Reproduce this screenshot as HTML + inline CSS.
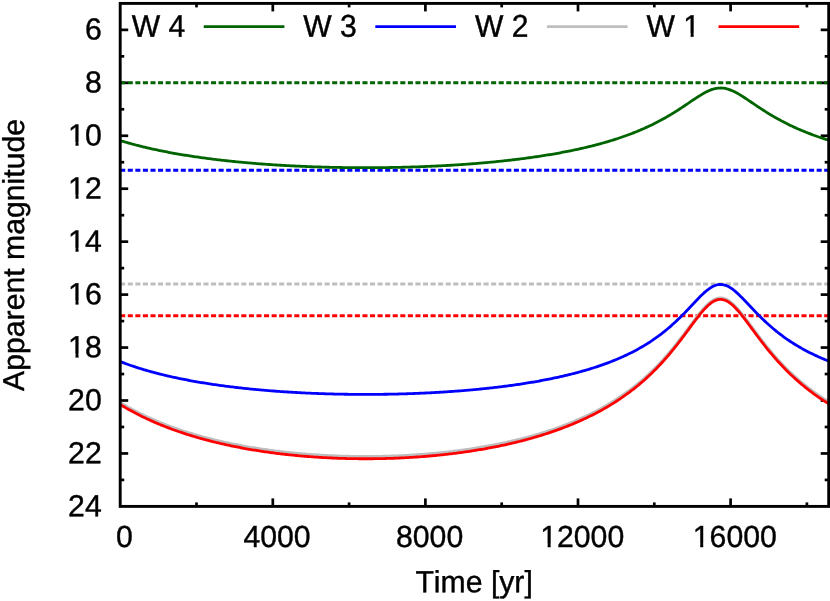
<!DOCTYPE html>
<html><head><meta charset="utf-8"><title>chart</title>
<style>
html,body{margin:0;padding:0;background:#fff;}
svg{display:block;will-change:transform}
text{font-family:"Liberation Sans",sans-serif;font-size:30.2px;fill:#000;stroke:#000;stroke-width:0.4px;text-rendering:geometricPrecision;font-kerning:none}
</style></head><body>
<svg width="830" height="601" viewBox="0 0 830 601">
<rect width="830" height="601" fill="#fff"/>

<g stroke="#000" stroke-width="2.7" fill="none">
<line x1="120.2" y1="29.87" x2="128.2" y2="29.87"/>
<line x1="828.7" y1="29.87" x2="820.7" y2="29.87"/>
<line x1="120.2" y1="56.35" x2="124.2" y2="56.35"/>
<line x1="828.7" y1="56.35" x2="824.7" y2="56.35"/>
<line x1="120.2" y1="82.82" x2="128.2" y2="82.82"/>
<line x1="828.7" y1="82.82" x2="820.7" y2="82.82"/>
<line x1="120.2" y1="109.29" x2="124.2" y2="109.29"/>
<line x1="828.7" y1="109.29" x2="824.7" y2="109.29"/>
<line x1="120.2" y1="135.77" x2="128.2" y2="135.77"/>
<line x1="828.7" y1="135.77" x2="820.7" y2="135.77"/>
<line x1="120.2" y1="162.24" x2="124.2" y2="162.24"/>
<line x1="828.7" y1="162.24" x2="824.7" y2="162.24"/>
<line x1="120.2" y1="188.72" x2="128.2" y2="188.72"/>
<line x1="828.7" y1="188.72" x2="820.7" y2="188.72"/>
<line x1="120.2" y1="215.19" x2="124.2" y2="215.19"/>
<line x1="828.7" y1="215.19" x2="824.7" y2="215.19"/>
<line x1="120.2" y1="241.66" x2="128.2" y2="241.66"/>
<line x1="828.7" y1="241.66" x2="820.7" y2="241.66"/>
<line x1="120.2" y1="268.14" x2="124.2" y2="268.14"/>
<line x1="828.7" y1="268.14" x2="824.7" y2="268.14"/>
<line x1="120.2" y1="294.61" x2="128.2" y2="294.61"/>
<line x1="828.7" y1="294.61" x2="820.7" y2="294.61"/>
<line x1="120.2" y1="321.08" x2="124.2" y2="321.08"/>
<line x1="828.7" y1="321.08" x2="824.7" y2="321.08"/>
<line x1="120.2" y1="347.56" x2="128.2" y2="347.56"/>
<line x1="828.7" y1="347.56" x2="820.7" y2="347.56"/>
<line x1="120.2" y1="374.03" x2="124.2" y2="374.03"/>
<line x1="828.7" y1="374.03" x2="824.7" y2="374.03"/>
<line x1="120.2" y1="400.51" x2="128.2" y2="400.51"/>
<line x1="828.7" y1="400.51" x2="820.7" y2="400.51"/>
<line x1="120.2" y1="426.98" x2="124.2" y2="426.98"/>
<line x1="828.7" y1="426.98" x2="824.7" y2="426.98"/>
<line x1="120.2" y1="453.45" x2="128.2" y2="453.45"/>
<line x1="828.7" y1="453.45" x2="820.7" y2="453.45"/>
<line x1="120.2" y1="479.93" x2="124.2" y2="479.93"/>
<line x1="828.7" y1="479.93" x2="824.7" y2="479.93"/>
<line x1="196.50" y1="506.4" x2="196.50" y2="502.4"/>
<line x1="196.50" y1="3.4" x2="196.50" y2="7.4"/>
<line x1="272.80" y1="506.4" x2="272.80" y2="498.4"/>
<line x1="272.80" y1="3.4" x2="272.80" y2="11.4"/>
<line x1="349.10" y1="506.4" x2="349.10" y2="502.4"/>
<line x1="349.10" y1="3.4" x2="349.10" y2="7.4"/>
<line x1="425.40" y1="506.4" x2="425.40" y2="498.4"/>
<line x1="425.40" y1="3.4" x2="425.40" y2="11.4"/>
<line x1="501.70" y1="506.4" x2="501.70" y2="502.4"/>
<line x1="501.70" y1="3.4" x2="501.70" y2="7.4"/>
<line x1="578.00" y1="506.4" x2="578.00" y2="498.4"/>
<line x1="578.00" y1="3.4" x2="578.00" y2="11.4"/>
<line x1="654.30" y1="506.4" x2="654.30" y2="502.4"/>
<line x1="654.30" y1="3.4" x2="654.30" y2="7.4"/>
<line x1="730.60" y1="506.4" x2="730.60" y2="498.4"/>
<line x1="730.60" y1="3.4" x2="730.60" y2="11.4"/>
<line x1="806.90" y1="506.4" x2="806.90" y2="502.4"/>
<line x1="806.90" y1="3.4" x2="806.90" y2="7.4"/>
</g>
<g fill="none" stroke-width="2.8" stroke-linejoin="round">
<line x1="120.2" y1="82.82" x2="828.7" y2="82.82" stroke="#006400" stroke-dasharray="5.05 2.52" stroke-width="2.9"/>
<line x1="120.2" y1="170.18" x2="828.7" y2="170.18" stroke="#0000ff" stroke-dasharray="5.05 2.52" stroke-width="2.9"/>
<line x1="120.2" y1="284.02" x2="828.7" y2="284.02" stroke="#bebebe" stroke-dasharray="5.05 2.52" stroke-width="2.9"/>
<line x1="120.2" y1="315.79" x2="828.7" y2="315.79" stroke="#ff0000" stroke-dasharray="5.05 2.52" stroke-width="2.9"/>
<polyline points="120.20,140.57 121.62,141.00 123.04,141.43 124.46,141.85 125.88,142.26 127.30,142.67 128.72,143.07 130.14,143.46 131.56,143.85 132.98,144.24 134.40,144.62 135.82,144.99 137.24,145.36 138.66,145.72 140.08,146.07 141.50,146.43 142.92,146.77 144.34,147.12 145.76,147.45 147.18,147.79 148.60,148.12 150.02,148.44 151.44,148.76 152.86,149.07 154.28,149.38 155.70,149.69 157.12,149.99 158.54,150.29 159.96,150.58 161.38,150.87 162.80,151.16 164.22,151.44 165.63,151.72 167.05,151.99 168.47,152.26 169.89,152.53 171.31,152.80 172.73,153.06 174.15,153.31 175.57,153.57 176.99,153.82 178.41,154.06 179.83,154.31 181.25,154.55 182.67,154.78 184.09,155.02 185.51,155.25 186.93,155.47 188.35,155.70 189.77,155.92 191.19,156.14 192.61,156.36 194.03,156.57 195.45,156.78 196.87,156.99 198.29,157.19 199.71,157.39 201.13,157.59 202.55,157.79 203.97,157.98 205.39,158.17 206.81,158.36 208.23,158.55 209.65,158.73 211.07,158.91 212.49,159.09 213.91,159.27 215.33,159.44 216.75,159.61 218.17,159.78 219.59,159.95 221.01,160.12 222.43,160.28 223.85,160.44 225.27,160.60 226.69,160.75 228.11,160.91 229.53,161.06 230.95,161.21 232.37,161.36 233.79,161.50 235.21,161.64 236.63,161.79 238.05,161.92 239.47,162.06 240.89,162.20 242.31,162.33 243.73,162.46 245.15,162.59 246.57,162.72 247.99,162.84 249.41,162.97 250.83,163.09 252.25,163.21 253.66,163.33 255.08,163.44 256.50,163.56 257.92,163.67 259.34,163.78 260.76,163.89 262.18,164.00 263.60,164.10 265.02,164.21 266.44,164.31 267.86,164.41 269.28,164.51 270.70,164.61 272.12,164.70 273.54,164.79 274.96,164.89 276.38,164.98 277.80,165.07 279.22,165.15 280.64,165.24 282.06,165.32 283.48,165.41 284.90,165.49 286.32,165.57 287.74,165.64 289.16,165.72 290.58,165.79 292.00,165.87 293.42,165.94 294.84,166.01 296.26,166.08 297.68,166.14 299.10,166.21 300.52,166.27 301.94,166.34 303.36,166.40 304.78,166.46 306.20,166.52 307.62,166.57 309.04,166.63 310.46,166.68 311.88,166.73 313.30,166.79 314.72,166.84 316.14,166.88 317.56,166.93 318.98,166.98 320.40,167.02 321.82,167.06 323.24,167.10 324.66,167.14 326.08,167.18 327.50,167.22 328.92,167.25 330.34,167.29 331.76,167.32 333.18,167.35 334.60,167.38 336.02,167.41 337.44,167.44 338.86,167.46 340.28,167.49 341.69,167.51 343.11,167.53 344.53,167.55 345.95,167.57 347.37,167.59 348.79,167.61 350.21,167.62 351.63,167.64 353.05,167.65 354.47,167.66 355.89,167.67 357.31,167.68 358.73,167.69 360.15,167.69 361.57,167.70 362.99,167.70 364.41,167.70 365.83,167.70 367.25,167.70 368.67,167.70 370.09,167.70 371.51,167.69 372.93,167.69 374.35,167.68 375.77,167.67 377.19,167.66 378.61,167.65 380.03,167.64 381.45,167.62 382.87,167.61 384.29,167.59 385.71,167.57 387.13,167.55 388.55,167.53 389.97,167.51 391.39,167.49 392.81,167.46 394.23,167.43 395.65,167.41 397.07,167.38 398.49,167.35 399.91,167.32 401.33,167.28 402.75,167.25 404.17,167.21 405.59,167.18 407.01,167.14 408.43,167.10 409.85,167.06 411.27,167.01 412.69,166.97 414.11,166.92 415.53,166.88 416.95,166.83 418.37,166.78 419.79,166.73 421.21,166.67 422.63,166.62 424.05,166.56 425.47,166.51 426.89,166.45 428.31,166.39 429.73,166.33 431.14,166.27 432.56,166.20 433.98,166.14 435.40,166.07 436.82,166.00 438.24,165.93 439.66,165.86 441.08,165.78 442.50,165.71 443.92,165.63 445.34,165.55 446.76,165.48 448.18,165.39 449.60,165.31 451.02,165.23 452.44,165.14 453.86,165.05 455.28,164.96 456.70,164.87 458.12,164.78 459.54,164.69 460.96,164.59 462.38,164.49 463.80,164.40 465.22,164.29 466.64,164.19 468.06,164.09 469.48,163.98 470.90,163.87 472.32,163.77 473.74,163.65 475.16,163.54 476.58,163.43 478.00,163.31 479.42,163.19 480.84,163.07 482.26,162.95 483.68,162.83 485.10,162.70 486.52,162.57 487.94,162.44 489.36,162.31 490.78,162.18 492.20,162.04 493.62,161.90 495.04,161.77 496.46,161.62 497.88,161.48 499.30,161.33 500.72,161.19 502.14,161.04 503.56,160.89 504.98,160.73 506.40,160.58 507.82,160.42 509.24,160.26 510.66,160.09 512.08,159.93 513.50,159.76 514.92,159.59 516.34,159.42 517.76,159.24 519.17,159.07 520.59,158.89 522.01,158.71 523.43,158.52 524.85,158.34 526.27,158.15 527.69,157.96 529.11,157.76 530.53,157.56 531.95,157.36 533.37,157.16 534.79,156.96 536.21,156.75 537.63,156.54 539.05,156.33 540.47,156.11 541.89,155.89 543.31,155.67 544.73,155.44 546.15,155.21 547.57,154.98 548.99,154.75 550.41,154.51 551.83,154.27 553.25,154.03 554.67,153.78 556.09,153.53 557.51,153.28 558.93,153.02 560.35,152.76 561.77,152.49 563.19,152.23 564.61,151.96 566.03,151.68 567.45,151.40 568.87,151.12 570.29,150.83 571.71,150.54 573.13,150.25 574.55,149.95 575.97,149.65 577.39,149.34 578.81,149.03 580.23,148.71 581.65,148.39 583.07,148.07 584.49,147.74 585.91,147.41 587.33,147.07 588.75,146.73 590.17,146.38 591.59,146.03 593.01,145.67 594.43,145.30 595.85,144.94 597.27,144.56 598.69,144.18 600.11,143.80 601.53,143.41 602.95,143.01 604.37,142.61 605.79,142.20 607.21,141.79 608.62,141.37 610.04,140.94 611.46,140.51 612.88,140.07 614.30,139.62 615.72,139.17 617.14,138.71 618.56,138.24 619.98,137.77 621.40,137.29 622.82,136.80 624.24,136.30 625.66,135.79 627.08,135.28 628.50,134.76 629.92,134.23 631.34,133.69 632.76,133.14 634.18,132.59 635.60,132.02 637.02,131.45 638.44,130.86 639.86,130.27 641.28,129.66 642.70,129.05 644.12,128.43 645.54,127.79 646.96,127.15 648.38,126.49 649.80,125.82 651.22,125.14 652.64,124.45 654.06,123.75 655.48,123.04 656.90,122.31 658.32,121.58 659.74,120.83 661.16,120.07 662.58,119.29 664.00,118.50 665.42,117.70 666.84,116.89 668.26,116.07 669.68,115.23 671.10,114.38 672.52,113.52 673.94,112.64 675.36,111.75 676.78,110.86 678.20,109.95 679.62,109.03 681.04,108.10 682.46,107.16 683.88,106.22 685.30,105.26 686.72,104.31 688.14,103.35 689.56,102.38 690.98,101.42 692.40,100.46 693.82,99.51 695.24,98.56 696.65,97.63 698.07,96.71 699.49,95.81 700.91,94.94 702.33,94.09 703.75,93.28 705.17,92.51 706.59,91.78 708.01,91.10 709.43,90.47 710.85,89.91 712.27,89.41 713.69,88.98 715.11,88.62 716.53,88.34 717.95,88.15 719.37,88.04 720.79,88.01 722.21,88.07 723.63,88.21 725.05,88.44 726.47,88.74 727.89,89.13 729.31,89.58 730.73,90.11 732.15,90.70 733.57,91.34 734.99,92.04 736.41,92.79 737.83,93.58 739.25,94.40 740.67,95.26 742.09,96.15 743.51,97.05 744.93,97.98 746.35,98.91 747.77,99.86 749.19,100.82 750.61,101.78 752.03,102.74 753.45,103.70 754.87,104.66 756.29,105.62 757.71,106.57 759.13,107.51 760.55,108.45 761.97,109.37 763.39,110.29 764.81,111.19 766.23,112.09 767.65,112.97 769.07,113.84 770.49,114.70 771.91,115.54 773.33,116.37 774.75,117.19 776.17,118.00 777.59,118.80 779.01,119.58 780.43,120.35 781.85,121.11 783.27,121.85 784.68,122.59 786.10,123.31 787.52,124.02 788.94,124.71 790.36,125.40 791.78,126.07 793.20,126.74 794.62,127.39 796.04,128.03 797.46,128.66 798.88,129.28 800.30,129.89 801.72,130.49 803.14,131.08 804.56,131.66 805.98,132.23 807.40,132.79 808.82,133.35 810.24,133.89 811.66,134.43 813.08,134.95 814.50,135.47 815.92,135.98 817.34,136.48 818.76,136.98 820.18,137.47 821.60,137.95 823.02,138.42 824.44,138.88 825.86,139.34 827.28,139.79 828.70,140.23" stroke="#006400"/>
<line x1="203.7" y1="26.6" x2="284.4" y2="26.6" stroke="#006400"/>
<polyline points="120.20,361.56 121.62,362.11 123.04,362.65 124.46,363.18 125.88,363.70 127.30,364.22 128.72,364.72 130.14,365.22 131.56,365.71 132.98,366.19 134.40,366.67 135.82,367.14 137.24,367.60 138.66,368.05 140.08,368.49 141.50,368.93 142.92,369.36 144.34,369.79 145.76,370.21 147.18,370.62 148.60,371.02 150.02,371.42 151.44,371.82 152.86,372.20 154.28,372.58 155.70,372.96 157.12,373.33 158.54,373.70 159.96,374.06 161.38,374.41 162.80,374.76 164.22,375.10 165.63,375.44 167.05,375.78 168.47,376.11 169.89,376.43 171.31,376.75 172.73,377.07 174.15,377.38 175.57,377.68 176.99,377.99 178.41,378.28 179.83,378.58 181.25,378.87 182.67,379.15 184.09,379.43 185.51,379.71 186.93,379.98 188.35,380.25 189.77,380.52 191.19,380.78 192.61,381.04 194.03,381.30 195.45,381.55 196.87,381.80 198.29,382.04 199.71,382.28 201.13,382.52 202.55,382.75 203.97,382.99 205.39,383.21 206.81,383.44 208.23,383.66 209.65,383.88 211.07,384.09 212.49,384.31 213.91,384.52 215.33,384.72 216.75,384.93 218.17,385.13 219.59,385.32 221.01,385.52 222.43,385.71 223.85,385.90 225.27,386.09 226.69,386.27 228.11,386.45 229.53,386.63 230.95,386.81 232.37,386.98 233.79,387.16 235.21,387.32 236.63,387.49 238.05,387.65 239.47,387.82 240.89,387.97 242.31,388.13 243.73,388.29 245.15,388.44 246.57,388.59 247.99,388.73 249.41,388.88 250.83,389.02 252.25,389.16 253.66,389.30 255.08,389.44 256.50,389.57 257.92,389.70 259.34,389.83 260.76,389.96 262.18,390.09 263.60,390.21 265.02,390.33 266.44,390.45 267.86,390.57 269.28,390.68 270.70,390.80 272.12,390.91 273.54,391.02 274.96,391.13 276.38,391.23 277.80,391.34 279.22,391.44 280.64,391.54 282.06,391.64 283.48,391.73 284.90,391.83 286.32,391.92 287.74,392.01 289.16,392.10 290.58,392.19 292.00,392.27 293.42,392.35 294.84,392.44 296.26,392.52 297.68,392.59 299.10,392.67 300.52,392.74 301.94,392.82 303.36,392.89 304.78,392.96 306.20,393.03 307.62,393.09 309.04,393.16 310.46,393.22 311.88,393.28 313.30,393.34 314.72,393.40 316.14,393.45 317.56,393.51 318.98,393.56 320.40,393.61 321.82,393.66 323.24,393.71 324.66,393.75 326.08,393.80 327.50,393.84 328.92,393.88 330.34,393.92 331.76,393.96 333.18,394.00 334.60,394.03 336.02,394.06 337.44,394.10 338.86,394.13 340.28,394.16 341.69,394.18 343.11,394.21 344.53,394.23 345.95,394.25 347.37,394.27 348.79,394.29 350.21,394.31 351.63,394.33 353.05,394.34 354.47,394.36 355.89,394.37 357.31,394.38 358.73,394.39 360.15,394.39 361.57,394.40 362.99,394.40 364.41,394.40 365.83,394.40 367.25,394.40 368.67,394.40 370.09,394.40 371.51,394.39 372.93,394.38 374.35,394.38 375.77,394.37 377.19,394.35 378.61,394.34 380.03,394.33 381.45,394.31 382.87,394.29 384.29,394.27 385.71,394.25 387.13,394.23 388.55,394.20 389.97,394.18 391.39,394.15 392.81,394.12 394.23,394.09 395.65,394.06 397.07,394.03 398.49,393.99 399.91,393.95 401.33,393.92 402.75,393.88 404.17,393.83 405.59,393.79 407.01,393.75 408.43,393.70 409.85,393.65 411.27,393.60 412.69,393.55 414.11,393.50 415.53,393.44 416.95,393.39 418.37,393.33 419.79,393.27 421.21,393.21 422.63,393.15 424.05,393.08 425.47,393.02 426.89,392.95 428.31,392.88 429.73,392.81 431.14,392.73 432.56,392.66 433.98,392.58 435.40,392.50 436.82,392.42 438.24,392.34 439.66,392.26 441.08,392.17 442.50,392.09 443.92,392.00 445.34,391.91 446.76,391.81 448.18,391.72 449.60,391.62 451.02,391.52 452.44,391.42 453.86,391.32 455.28,391.22 456.70,391.11 458.12,391.00 459.54,390.89 460.96,390.78 462.38,390.67 463.80,390.55 465.22,390.44 466.64,390.32 468.06,390.19 469.48,390.07 470.90,389.94 472.32,389.82 473.74,389.69 475.16,389.55 476.58,389.42 478.00,389.28 479.42,389.14 480.84,389.00 482.26,388.86 483.68,388.71 485.10,388.57 486.52,388.42 487.94,388.26 489.36,388.11 490.78,387.95 492.20,387.79 493.62,387.63 495.04,387.47 496.46,387.30 497.88,387.13 499.30,386.96 500.72,386.79 502.14,386.61 503.56,386.43 504.98,386.25 506.40,386.06 507.82,385.88 509.24,385.69 510.66,385.49 512.08,385.30 513.50,385.10 514.92,384.90 516.34,384.69 517.76,384.49 519.17,384.28 520.59,384.06 522.01,383.85 523.43,383.63 524.85,383.41 526.27,383.18 527.69,382.95 529.11,382.72 530.53,382.49 531.95,382.25 533.37,382.01 534.79,381.76 536.21,381.51 537.63,381.26 539.05,381.01 540.47,380.75 541.89,380.48 543.31,380.22 544.73,379.95 546.15,379.67 547.57,379.39 548.99,379.11 550.41,378.83 551.83,378.54 553.25,378.24 554.67,377.94 556.09,377.64 557.51,377.33 558.93,377.02 560.35,376.71 561.77,376.39 563.19,376.06 564.61,375.73 566.03,375.40 567.45,375.06 568.87,374.71 570.29,374.36 571.71,374.01 573.13,373.65 574.55,373.28 575.97,372.91 577.39,372.53 578.81,372.15 580.23,371.76 581.65,371.37 583.07,370.97 584.49,370.56 585.91,370.15 587.33,369.73 588.75,369.30 590.17,368.87 591.59,368.43 593.01,367.99 594.43,367.53 595.85,367.07 597.27,366.60 598.69,366.13 600.11,365.64 601.53,365.15 602.95,364.65 604.37,364.15 605.79,363.63 607.21,363.11 608.62,362.57 610.04,362.03 611.46,361.48 612.88,360.92 614.30,360.35 615.72,359.76 617.14,359.17 618.56,358.57 619.98,357.96 621.40,357.33 622.82,356.70 624.24,356.05 625.66,355.39 627.08,354.72 628.50,354.04 629.92,353.34 631.34,352.64 632.76,351.91 634.18,351.18 635.60,350.43 637.02,349.66 638.44,348.88 639.86,348.08 641.28,347.27 642.70,346.45 644.12,345.60 645.54,344.74 646.96,343.86 648.38,342.97 649.80,342.05 651.22,341.12 652.64,340.17 654.06,339.19 655.48,338.20 656.90,337.19 658.32,336.15 659.74,335.10 661.16,334.02 662.58,332.92 664.00,331.80 665.42,330.65 666.84,329.48 668.26,328.29 669.68,327.07 671.10,325.83 672.52,324.57 673.94,323.28 675.36,321.97 676.78,320.63 678.20,319.27 679.62,317.89 681.04,316.49 682.46,315.07 683.88,313.63 685.30,312.17 686.72,310.69 688.14,309.20 689.56,307.70 690.98,306.20 692.40,304.69 693.82,303.18 695.24,301.68 696.65,300.19 698.07,298.72 699.49,297.28 700.91,295.86 702.33,294.49 703.75,293.16 705.17,291.90 706.59,290.70 708.01,289.57 709.43,288.54 710.85,287.60 712.27,286.77 713.69,286.06 715.11,285.47 716.53,285.00 717.95,284.68 719.37,284.49 720.79,284.45 722.21,284.54 723.63,284.78 725.05,285.16 726.47,285.67 727.89,286.31 729.31,287.07 730.73,287.94 732.15,288.91 733.57,289.98 734.99,291.13 736.41,292.36 737.83,293.65 739.25,294.99 740.67,296.38 742.09,297.81 743.51,299.27 744.93,300.75 746.35,302.24 747.77,303.74 749.19,305.25 750.61,306.76 752.03,308.26 753.45,309.76 754.87,311.24 756.29,312.71 757.71,314.16 759.13,315.60 760.55,317.01 761.97,318.41 763.39,319.78 764.81,321.13 766.23,322.46 767.65,323.76 769.07,325.04 770.49,326.30 771.91,327.53 773.33,328.74 774.75,329.92 776.17,331.08 777.59,332.22 779.01,333.33 780.43,334.42 781.85,335.49 783.27,336.54 784.68,337.57 786.10,338.57 787.52,339.56 788.94,340.52 790.36,341.47 791.78,342.39 793.20,343.30 794.62,344.19 796.04,345.06 797.46,345.92 798.88,346.76 800.30,347.58 801.72,348.38 803.14,349.17 804.56,349.95 805.98,350.71 807.40,351.45 808.82,352.18 810.24,352.90 811.66,353.60 813.08,354.30 814.50,354.97 815.92,355.64 817.34,356.29 818.76,356.94 820.18,357.57 821.60,358.19 823.02,358.80 824.44,359.39 825.86,359.98 827.28,360.56 828.70,361.13" stroke="#0000ff"/>
<line x1="375.3" y1="26.6" x2="456.0" y2="26.6" stroke="#0000ff"/>
<polyline points="120.20,402.46 121.62,403.32 123.04,404.17 124.46,405.00 125.88,405.82 127.30,406.63 128.72,407.43 130.14,408.22 131.56,408.99 132.98,409.76 134.40,410.51 135.82,411.25 137.24,411.98 138.66,412.71 140.08,413.42 141.50,414.12 142.92,414.81 144.34,415.49 145.76,416.16 147.18,416.82 148.60,417.48 150.02,418.12 151.44,418.76 152.86,419.38 154.28,420.00 155.70,420.61 157.12,421.21 158.54,421.80 159.96,422.39 161.38,422.96 162.80,423.53 164.22,424.09 165.63,424.65 167.05,425.19 168.47,425.73 169.89,426.27 171.31,426.79 172.73,427.31 174.15,427.82 175.57,428.32 176.99,428.82 178.41,429.31 179.83,429.79 181.25,430.27 182.67,430.74 184.09,431.21 185.51,431.67 186.93,432.12 188.35,432.57 189.77,433.01 191.19,433.44 192.61,433.87 194.03,434.30 195.45,434.72 196.87,435.13 198.29,435.54 199.71,435.94 201.13,436.33 202.55,436.73 203.97,437.11 205.39,437.49 206.81,437.87 208.23,438.24 209.65,438.60 211.07,438.97 212.49,439.32 213.91,439.67 215.33,440.02 216.75,440.36 218.17,440.70 219.59,441.03 221.01,441.36 222.43,441.68 223.85,442.00 225.27,442.32 226.69,442.63 228.11,442.93 229.53,443.23 230.95,443.53 232.37,443.82 233.79,444.11 235.21,444.40 236.63,444.68 238.05,444.96 239.47,445.23 240.89,445.50 242.31,445.76 243.73,446.02 245.15,446.28 246.57,446.54 247.99,446.79 249.41,447.03 250.83,447.27 252.25,447.51 253.66,447.75 255.08,447.98 256.50,448.21 257.92,448.43 259.34,448.65 260.76,448.87 262.18,449.08 263.60,449.29 265.02,449.50 266.44,449.70 267.86,449.90 269.28,450.10 270.70,450.29 272.12,450.48 273.54,450.67 274.96,450.85 276.38,451.03 277.80,451.21 279.22,451.38 280.64,451.55 282.06,451.72 283.48,451.88 284.90,452.04 286.32,452.20 287.74,452.36 289.16,452.51 290.58,452.66 292.00,452.80 293.42,452.95 294.84,453.08 296.26,453.22 297.68,453.35 299.10,453.49 300.52,453.61 301.94,453.74 303.36,453.86 304.78,453.98 306.20,454.09 307.62,454.21 309.04,454.32 310.46,454.42 311.88,454.53 313.30,454.63 314.72,454.73 316.14,454.82 317.56,454.92 318.98,455.01 320.40,455.10 321.82,455.18 323.24,455.26 324.66,455.34 326.08,455.42 327.50,455.49 328.92,455.56 330.34,455.63 331.76,455.70 333.18,455.76 334.60,455.82 336.02,455.88 337.44,455.93 338.86,455.98 340.28,456.03 341.69,456.08 343.11,456.12 344.53,456.16 345.95,456.20 347.37,456.24 348.79,456.27 350.21,456.30 351.63,456.33 353.05,456.35 354.47,456.37 355.89,456.39 357.31,456.41 358.73,456.43 360.15,456.44 361.57,456.45 362.99,456.45 364.41,456.46 365.83,456.46 367.25,456.46 368.67,456.45 370.09,456.44 371.51,456.44 372.93,456.42 374.35,456.41 375.77,456.39 377.19,456.37 378.61,456.35 380.03,456.32 381.45,456.29 382.87,456.26 384.29,456.23 385.71,456.19 387.13,456.16 388.55,456.11 389.97,456.07 391.39,456.02 392.81,455.97 394.23,455.92 395.65,455.87 397.07,455.81 398.49,455.75 399.91,455.69 401.33,455.62 402.75,455.55 404.17,455.48 405.59,455.41 407.01,455.33 408.43,455.25 409.85,455.17 411.27,455.08 412.69,455.00 414.11,454.90 415.53,454.81 416.95,454.72 418.37,454.62 419.79,454.51 421.21,454.41 422.63,454.30 424.05,454.19 425.47,454.08 426.89,453.96 428.31,453.84 429.73,453.72 431.14,453.60 432.56,453.47 433.98,453.34 435.40,453.20 436.82,453.07 438.24,452.93 439.66,452.78 441.08,452.64 442.50,452.49 443.92,452.34 445.34,452.18 446.76,452.02 448.18,451.86 449.60,451.70 451.02,451.53 452.44,451.36 453.86,451.18 455.28,451.01 456.70,450.83 458.12,450.64 459.54,450.46 460.96,450.26 462.38,450.07 463.80,449.87 465.22,449.67 466.64,449.47 468.06,449.26 469.48,449.05 470.90,448.84 472.32,448.62 473.74,448.40 475.16,448.17 476.58,447.95 478.00,447.71 479.42,447.48 480.84,447.24 482.26,447.00 483.68,446.75 485.10,446.50 486.52,446.25 487.94,445.99 489.36,445.73 490.78,445.46 492.20,445.19 493.62,444.92 495.04,444.64 496.46,444.36 497.88,444.07 499.30,443.78 500.72,443.49 502.14,443.19 503.56,442.89 504.98,442.58 506.40,442.27 507.82,441.96 509.24,441.64 510.66,441.31 512.08,440.98 513.50,440.65 514.92,440.31 516.34,439.97 517.76,439.62 519.17,439.27 520.59,438.92 522.01,438.55 523.43,438.19 524.85,437.82 526.27,437.44 527.69,437.06 529.11,436.67 530.53,436.28 531.95,435.88 533.37,435.48 534.79,435.07 536.21,434.66 537.63,434.24 539.05,433.81 540.47,433.38 541.89,432.95 543.31,432.51 544.73,432.06 546.15,431.60 547.57,431.14 548.99,430.68 550.41,430.21 551.83,429.73 553.25,429.24 554.67,428.75 556.09,428.25 557.51,427.75 558.93,427.24 560.35,426.72 561.77,426.19 563.19,425.66 564.61,425.12 566.03,424.57 567.45,424.02 568.87,423.45 570.29,422.88 571.71,422.31 573.13,421.72 574.55,421.13 575.97,420.52 577.39,419.91 578.81,419.29 580.23,418.67 581.65,418.03 583.07,417.39 584.49,416.73 585.91,416.07 587.33,415.39 588.75,414.71 590.17,414.02 591.59,413.32 593.01,412.61 594.43,411.88 595.85,411.15 597.27,410.41 598.69,409.65 600.11,408.89 601.53,408.11 602.95,407.32 604.37,406.52 605.79,405.71 607.21,404.89 608.62,404.05 610.04,403.20 611.46,402.34 612.88,401.47 614.30,400.58 615.72,399.68 617.14,398.76 618.56,397.83 619.98,396.89 621.40,395.93 622.82,394.95 624.24,393.96 625.66,392.96 627.08,391.93 628.50,390.90 629.92,389.84 631.34,388.77 632.76,387.68 634.18,386.57 635.60,385.45 637.02,384.30 638.44,383.14 639.86,381.96 641.28,380.76 642.70,379.54 644.12,378.30 645.54,377.03 646.96,375.75 648.38,374.44 649.80,373.11 651.22,371.76 652.64,370.39 654.06,369.00 655.48,367.58 656.90,366.13 658.32,364.67 659.74,363.17 661.16,361.66 662.58,360.12 664.00,358.55 665.42,356.96 666.84,355.34 668.26,353.70 669.68,352.03 671.10,350.34 672.52,348.62 673.94,346.88 675.36,345.12 676.78,343.33 678.20,341.52 679.62,339.69 681.04,337.85 682.46,335.98 683.88,334.10 685.30,332.20 686.72,330.30 688.14,328.39 689.56,326.47 690.98,324.56 692.40,322.65 693.82,320.75 695.24,318.87 696.65,317.01 698.07,315.19 699.49,313.40 700.91,311.66 702.33,309.97 703.75,308.36 705.17,306.82 706.59,305.36 708.01,304.01 709.43,302.76 710.85,301.64 712.27,300.64 713.69,299.79 715.11,299.08 716.53,298.53 717.95,298.14 719.37,297.92 720.79,297.87 722.21,297.99 723.63,298.27 725.05,298.72 726.47,299.33 727.89,300.09 729.31,301.00 730.73,302.04 732.15,303.21 733.57,304.50 734.99,305.89 736.41,307.38 737.83,308.95 739.25,310.59 740.67,312.30 742.09,314.06 743.51,315.86 744.93,317.70 746.35,319.57 747.77,321.45 749.19,323.36 750.61,325.27 752.03,327.18 753.45,329.10 754.87,331.01 756.29,332.91 757.71,334.80 759.13,336.67 760.55,338.53 761.97,340.38 763.39,342.20 764.81,344.00 766.23,345.78 767.65,347.53 769.07,349.26 770.49,350.97 771.91,352.65 773.33,354.31 774.75,355.94 776.17,357.55 777.59,359.13 779.01,360.69 780.43,362.22 781.85,363.73 783.27,365.21 784.68,366.67 786.10,368.11 787.52,369.52 788.94,370.90 790.36,372.27 791.78,373.61 793.20,374.93 794.62,376.23 796.04,377.50 797.46,378.76 798.88,379.99 800.30,381.21 801.72,382.40 803.14,383.58 804.56,384.73 805.98,385.87 807.40,386.99 808.82,388.09 810.24,389.17 811.66,390.24 813.08,391.28 814.50,392.32 815.92,393.33 817.34,394.33 818.76,395.32 820.18,396.28 821.60,397.24 823.02,398.18 824.44,399.10 825.86,400.01 827.28,400.91 828.70,401.79" stroke="#bebebe"/>
<line x1="546.9" y1="26.6" x2="627.6" y2="26.6" stroke="#bebebe"/>
<polyline points="120.20,404.50 121.62,405.36 123.04,406.21 124.46,407.05 125.88,407.88 127.30,408.69 128.72,409.49 130.14,410.28 131.56,411.06 132.98,411.83 134.40,412.59 135.82,413.33 137.24,414.07 138.66,414.79 140.08,415.51 141.50,416.21 142.92,416.90 144.34,417.59 145.76,418.26 147.18,418.93 148.60,419.59 150.02,420.23 151.44,420.87 152.86,421.50 154.28,422.12 155.70,422.73 157.12,423.34 158.54,423.93 159.96,424.52 161.38,425.10 162.80,425.67 164.22,426.24 165.63,426.79 167.05,427.34 168.47,427.89 169.89,428.42 171.31,428.95 172.73,429.47 174.15,429.98 175.57,430.49 176.99,430.99 178.41,431.48 179.83,431.97 181.25,432.45 182.67,432.92 184.09,433.39 185.51,433.85 186.93,434.30 188.35,434.75 189.77,435.20 191.19,435.63 192.61,436.07 194.03,436.49 195.45,436.91 196.87,437.33 198.29,437.74 199.71,438.14 201.13,438.54 202.55,438.93 203.97,439.32 205.39,439.70 206.81,440.08 208.23,440.45 209.65,440.82 211.07,441.18 212.49,441.54 213.91,441.89 215.33,442.24 216.75,442.59 218.17,442.92 219.59,443.26 221.01,443.59 222.43,443.91 223.85,444.23 225.27,444.55 226.69,444.86 228.11,445.17 229.53,445.47 230.95,445.77 232.37,446.07 233.79,446.36 235.21,446.64 236.63,446.93 238.05,447.20 239.47,447.48 240.89,447.75 242.31,448.02 243.73,448.28 245.15,448.54 246.57,448.79 247.99,449.04 249.41,449.29 250.83,449.53 252.25,449.77 253.66,450.01 255.08,450.24 256.50,450.47 257.92,450.70 259.34,450.92 260.76,451.14 262.18,451.35 263.60,451.56 265.02,451.77 266.44,451.97 267.86,452.17 269.28,452.37 270.70,452.57 272.12,452.76 273.54,452.94 274.96,453.13 276.38,453.31 277.80,453.49 279.22,453.66 280.64,453.83 282.06,454.00 283.48,454.17 284.90,454.33 286.32,454.49 287.74,454.64 289.16,454.79 290.58,454.94 292.00,455.09 293.42,455.23 294.84,455.37 296.26,455.51 297.68,455.65 299.10,455.78 300.52,455.90 301.94,456.03 303.36,456.15 304.78,456.27 306.20,456.39 307.62,456.50 309.04,456.61 310.46,456.72 311.88,456.82 313.30,456.93 314.72,457.03 316.14,457.12 317.56,457.22 318.98,457.31 320.40,457.39 321.82,457.48 323.24,457.56 324.66,457.64 326.08,457.72 327.50,457.79 328.92,457.86 330.34,457.93 331.76,458.00 333.18,458.06 334.60,458.12 336.02,458.18 337.44,458.23 338.86,458.28 340.28,458.33 341.69,458.38 343.11,458.42 344.53,458.47 345.95,458.50 347.37,458.54 348.79,458.57 350.21,458.60 351.63,458.63 353.05,458.66 354.47,458.68 355.89,458.70 357.31,458.72 358.73,458.73 360.15,458.74 361.57,458.75 362.99,458.76 364.41,458.76 365.83,458.76 367.25,458.76 368.67,458.76 370.09,458.75 371.51,458.74 372.93,458.73 374.35,458.71 375.77,458.70 377.19,458.68 378.61,458.65 380.03,458.63 381.45,458.60 382.87,458.57 384.29,458.54 385.71,458.50 387.13,458.46 388.55,458.42 389.97,458.37 391.39,458.33 392.81,458.28 394.23,458.23 395.65,458.17 397.07,458.11 398.49,458.05 399.91,457.99 401.33,457.92 402.75,457.85 404.17,457.78 405.59,457.71 407.01,457.63 408.43,457.55 409.85,457.47 411.27,457.38 412.69,457.29 414.11,457.20 415.53,457.11 416.95,457.01 418.37,456.91 419.79,456.81 421.21,456.71 422.63,456.60 424.05,456.49 425.47,456.37 426.89,456.26 428.31,456.14 429.73,456.01 431.14,455.89 432.56,455.76 433.98,455.63 435.40,455.49 436.82,455.35 438.24,455.21 439.66,455.07 441.08,454.92 442.50,454.77 443.92,454.62 445.34,454.47 446.76,454.31 448.18,454.14 449.60,453.98 451.02,453.81 452.44,453.64 453.86,453.46 455.28,453.29 456.70,453.10 458.12,452.92 459.54,452.73 460.96,452.54 462.38,452.35 463.80,452.15 465.22,451.95 466.64,451.74 468.06,451.53 469.48,451.32 470.90,451.11 472.32,450.89 473.74,450.66 475.16,450.44 476.58,450.21 478.00,449.98 479.42,449.74 480.84,449.50 482.26,449.26 483.68,449.01 485.10,448.76 486.52,448.50 487.94,448.24 489.36,447.98 490.78,447.71 492.20,447.44 493.62,447.17 495.04,446.89 496.46,446.60 497.88,446.32 499.30,446.03 500.72,445.73 502.14,445.43 503.56,445.13 504.98,444.82 506.40,444.51 507.82,444.19 509.24,443.87 510.66,443.54 512.08,443.21 513.50,442.88 514.92,442.54 516.34,442.19 517.76,441.84 519.17,441.49 520.59,441.13 522.01,440.77 523.43,440.40 524.85,440.03 526.27,439.65 527.69,439.27 529.11,438.88 530.53,438.48 531.95,438.08 533.37,437.68 534.79,437.27 536.21,436.85 537.63,436.43 539.05,436.01 540.47,435.57 541.89,435.14 543.31,434.69 544.73,434.24 546.15,433.79 547.57,433.32 548.99,432.86 550.41,432.38 551.83,431.90 553.25,431.41 554.67,430.92 556.09,430.42 557.51,429.91 558.93,429.40 560.35,428.87 561.77,428.35 563.19,427.81 564.61,427.27 566.03,426.72 567.45,426.16 568.87,425.59 570.29,425.02 571.71,424.44 573.13,423.85 574.55,423.25 575.97,422.65 577.39,422.04 578.81,421.41 580.23,420.78 581.65,420.14 583.07,419.50 584.49,418.84 585.91,418.17 587.33,417.49 588.75,416.81 590.17,416.11 591.59,415.41 593.01,414.69 594.43,413.97 595.85,413.23 597.27,412.48 598.69,411.72 600.11,410.95 601.53,410.17 602.95,409.38 604.37,408.58 605.79,407.76 607.21,406.93 608.62,406.09 610.04,405.24 611.46,404.37 612.88,403.50 614.30,402.60 615.72,401.70 617.14,400.78 618.56,399.84 619.98,398.89 621.40,397.93 622.82,396.95 624.24,395.95 625.66,394.94 627.08,393.92 628.50,392.87 629.92,391.81 631.34,390.74 632.76,389.64 634.18,388.53 635.60,387.40 637.02,386.25 638.44,385.08 639.86,383.89 641.28,382.68 642.70,381.46 644.12,380.21 645.54,378.94 646.96,377.65 648.38,376.34 649.80,375.00 651.22,373.64 652.64,372.27 654.06,370.86 655.48,369.44 656.90,367.99 658.32,366.51 659.74,365.01 661.16,363.49 662.58,361.94 664.00,360.36 665.42,358.76 666.84,357.14 668.26,355.49 669.68,353.81 671.10,352.11 672.52,350.39 673.94,348.64 675.36,346.87 676.78,345.07 678.20,343.25 679.62,341.41 681.04,339.56 682.46,337.68 683.88,335.79 685.30,333.89 686.72,331.97 688.14,330.05 689.56,328.12 690.98,326.20 692.40,324.28 693.82,322.38 695.24,320.48 696.65,318.62 698.07,316.78 699.49,314.99 700.91,313.24 702.33,311.54 703.75,309.92 705.17,308.37 706.59,306.91 708.01,305.55 709.43,304.30 710.85,303.17 712.27,302.17 713.69,301.31 715.11,300.60 716.53,300.05 717.95,299.66 719.37,299.43 720.79,299.38 722.21,299.50 723.63,299.78 725.05,300.23 726.47,300.84 727.89,301.61 729.31,302.52 730.73,303.57 732.15,304.75 733.57,306.04 734.99,307.44 736.41,308.94 737.83,310.51 739.25,312.17 740.67,313.88 742.09,315.65 743.51,317.46 744.93,319.31 746.35,321.18 747.77,323.08 749.19,324.99 750.61,326.92 752.03,328.84 753.45,330.76 754.87,332.68 756.29,334.59 757.71,336.49 759.13,338.38 760.55,340.25 761.97,342.10 763.39,343.93 764.81,345.74 766.23,347.53 767.65,349.29 769.07,351.03 770.49,352.75 771.91,354.44 773.33,356.10 774.75,357.75 776.17,359.36 777.59,360.95 779.01,362.52 780.43,364.06 781.85,365.57 783.27,367.06 784.68,368.53 786.10,369.97 787.52,371.39 788.94,372.78 790.36,374.15 791.78,375.50 793.20,376.83 794.62,378.13 796.04,379.41 797.46,380.67 798.88,381.92 800.30,383.14 801.72,384.34 803.14,385.52 804.56,386.68 805.98,387.82 807.40,388.94 808.82,390.05 810.24,391.14 811.66,392.21 813.08,393.26 814.50,394.30 815.92,395.32 817.34,396.32 818.76,397.31 820.18,398.29 821.60,399.25 823.02,400.19 824.44,401.12 825.86,402.03 827.28,402.94 828.70,403.82" stroke="#ff0000"/>
<line x1="718.5" y1="26.6" x2="799.2" y2="26.6" stroke="#ff0000"/>
</g>
<rect x="120.2" y="3.4" width="708.5" height="503.0" fill="none" stroke="#000" stroke-width="2.9"/>
<g transform="translate(101.70,39.62) rotate(0.03) scale(1,1.01)"><text text-anchor="end">6</text></g>
<g transform="translate(101.70,92.57) rotate(0.03) scale(1,1.01)"><text text-anchor="end">8</text></g>
<g transform="translate(101.70,145.52) rotate(0.03) scale(1,1.01)"><text text-anchor="end">10</text><rect x="-32.69" y="-3.56" width="6.49" height="4.86" fill="#fff"/><rect x="-23.13" y="-3.56" width="6.26" height="4.86" fill="#fff"/></g>
<g transform="translate(101.70,198.47) rotate(0.03) scale(1,1.01)"><text text-anchor="end">12</text><rect x="-32.69" y="-3.56" width="6.49" height="4.86" fill="#fff"/><rect x="-23.13" y="-3.56" width="6.26" height="4.86" fill="#fff"/></g>
<g transform="translate(101.70,251.41) rotate(0.03) scale(1,1.01)"><text text-anchor="end">14</text><rect x="-32.69" y="-3.56" width="6.49" height="4.86" fill="#fff"/><rect x="-23.13" y="-3.56" width="6.26" height="4.86" fill="#fff"/></g>
<g transform="translate(101.70,304.36) rotate(0.03) scale(1,1.01)"><text text-anchor="end">16</text><rect x="-32.69" y="-3.56" width="6.49" height="4.86" fill="#fff"/><rect x="-23.13" y="-3.56" width="6.26" height="4.86" fill="#fff"/></g>
<g transform="translate(101.70,357.31) rotate(0.03) scale(1,1.01)"><text text-anchor="end">18</text><rect x="-32.69" y="-3.56" width="6.49" height="4.86" fill="#fff"/><rect x="-23.13" y="-3.56" width="6.26" height="4.86" fill="#fff"/></g>
<g transform="translate(101.70,410.26) rotate(0.03) scale(1,1.01)"><text text-anchor="end">20</text></g>
<g transform="translate(101.70,463.20) rotate(0.03) scale(1,1.01)"><text text-anchor="end">22</text></g>
<g transform="translate(101.70,516.15) rotate(0.03) scale(1,1.01)"><text text-anchor="end">24</text></g>
<g transform="translate(124.40,547.00) rotate(0.03) scale(1,1.01)"><text text-anchor="middle">0</text></g>
<g transform="translate(277.00,547.00) rotate(0.03) scale(1,1.01)"><text text-anchor="middle">4000</text></g>
<g transform="translate(429.60,547.00) rotate(0.03) scale(1,1.01)"><text text-anchor="middle">8000</text></g>
<g transform="translate(582.20,547.00) rotate(0.03) scale(1,1.01)"><text text-anchor="middle">12000</text><rect x="-41.09" y="-3.56" width="6.49" height="4.86" fill="#fff"/><rect x="-31.53" y="-3.56" width="6.26" height="4.86" fill="#fff"/></g>
<g transform="translate(734.80,547.00) rotate(0.03) scale(1,1.01)"><text text-anchor="middle">16000</text><rect x="-41.09" y="-3.56" width="6.49" height="4.86" fill="#fff"/><rect x="-31.53" y="-3.56" width="6.26" height="4.86" fill="#fff"/></g>
<g transform="translate(474.10,592.30) rotate(0.03) scale(1,1.012)"><text text-anchor="middle">Time [yr]</text></g>
<g transform="translate(24.00,254.95) rotate(-90)"><text text-anchor="middle">Apparent magnitude</text></g>
<g transform="translate(131.70,36.85) rotate(0.03) scale(1,1.045)"><text text-anchor="start" style="font-size:30.1px">W 4</text></g>
<g transform="translate(303.30,36.85) rotate(0.03) scale(1,1.045)"><text text-anchor="start" style="font-size:30.1px">W 3</text></g>
<g transform="translate(474.90,36.85) rotate(0.03) scale(1,1.045)"><text text-anchor="start" style="font-size:30.1px">W 2</text></g>
<g transform="translate(646.50,36.85) rotate(0.03) scale(1,1.045)"><text text-anchor="start" style="font-size:30.1px">W 1</text><rect x="37.67" y="-3.55" width="6.48" height="4.85" fill="#fff"/><rect x="47.20" y="-3.55" width="6.24" height="4.85" fill="#fff"/></g>
</svg></body></html>
